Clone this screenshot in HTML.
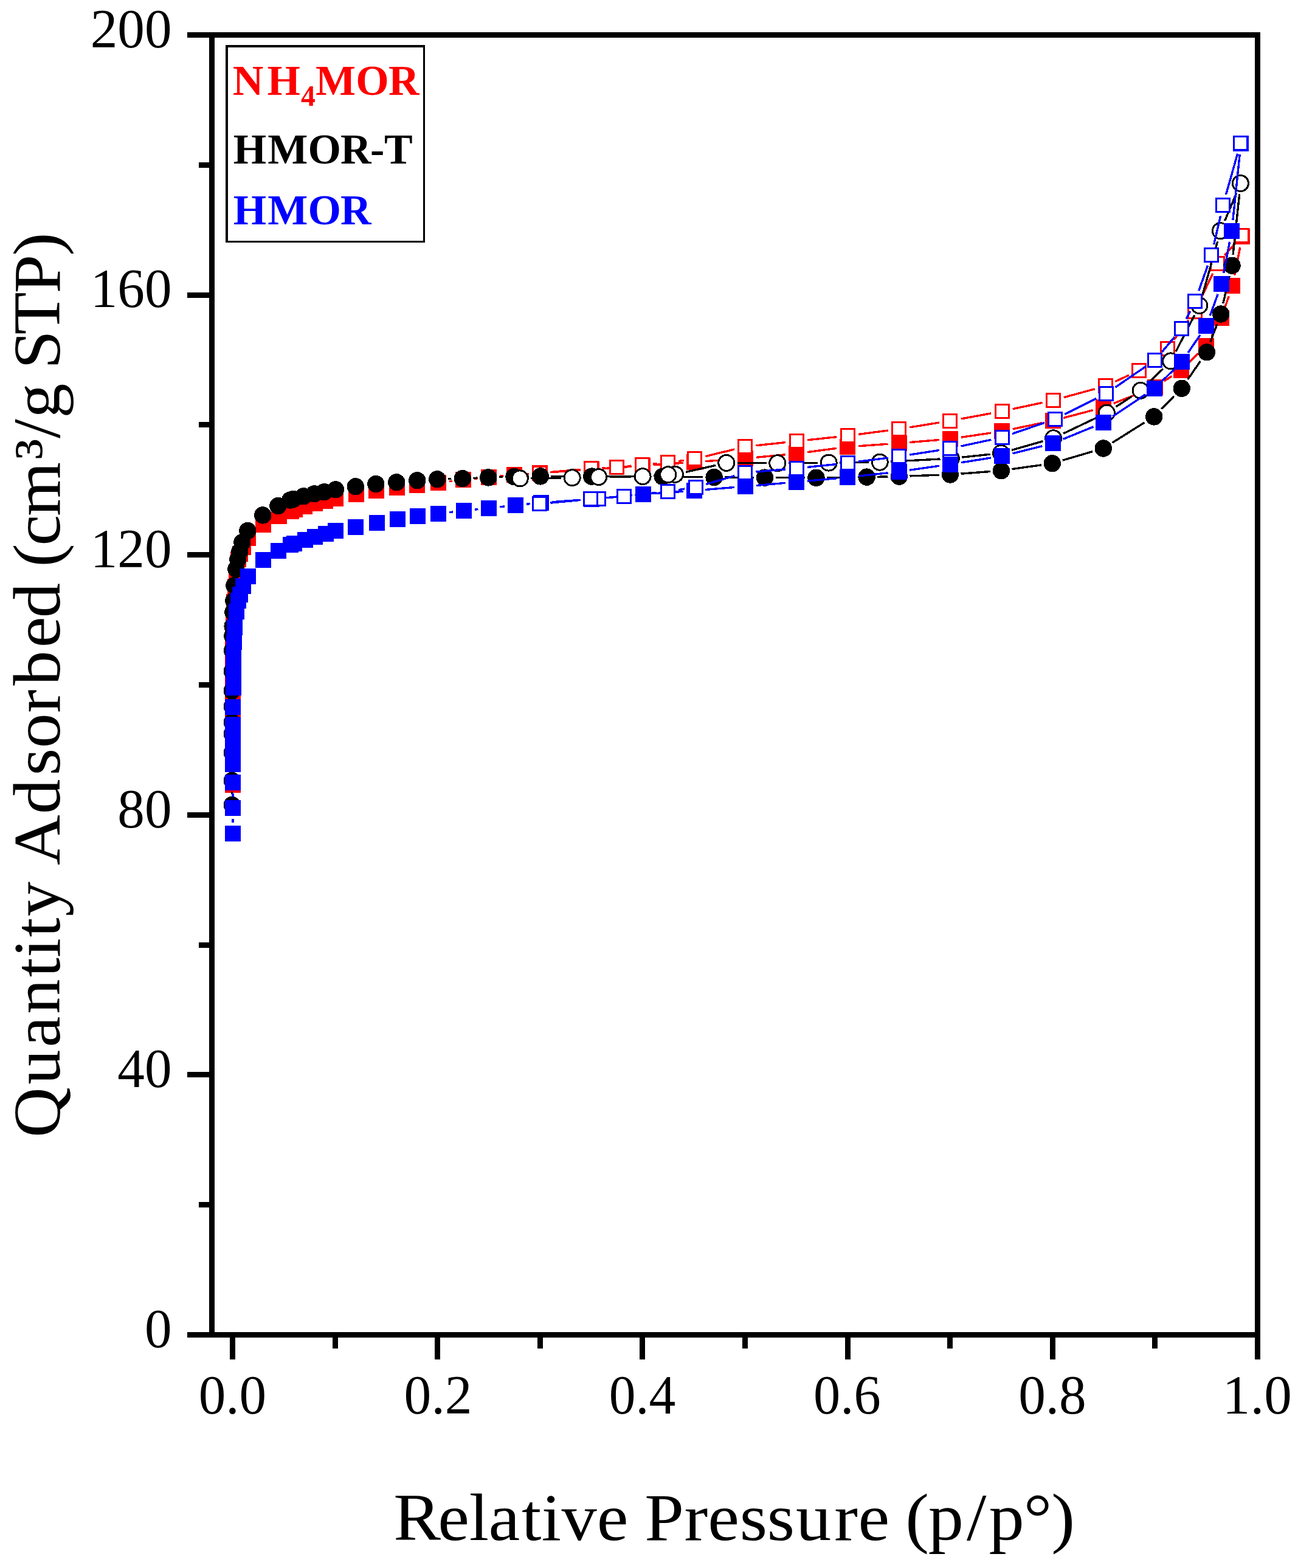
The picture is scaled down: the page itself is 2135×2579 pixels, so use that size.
<!DOCTYPE html>
<html lang="en">
<head>
<meta charset="utf-8">
<title>N2 adsorption-desorption isotherms</title>
<style>
html,body{margin:0;padding:0;background:#fff;}
body{width:2135px;height:2579px;}
svg{display:block;}
text{font-family:"Liberation Serif","DejaVu Serif",serif;fill:#000;}
.tk{font-size:91.5px;}
.ti{font-size:110px;}
.sp{font-size:68px;}
.lg{font-size:70px;font-weight:bold;}
.sb{font-size:47.5px;font-weight:bold;}
.r{fill:#ff0000;}
.b{fill:#0000ff;}
</style>
</head>
<body>
<svg width="2135" height="2579" viewBox="0 0 2135 2579">
<rect x="0" y="0" width="2135" height="2579" fill="#fff"/>
<g shape-rendering="crispEdges">
<path d="M383.0 1273.0L383.0 1268.0M739.4 791.8L744.1 791.2M779.9 787.3L786.1 786.7M821.9 783.2L828.5 782.6M864.4 779.6L870.0 779.2M906.0 776.7L955.0 773.3M991.0 770.7L1039.0 767.3M1075.0 764.7L1124.0 761.3M1160.0 758.7L1208.0 755.3M1243.9 752.3L1292.1 747.7M1327.8 743.7L1376.2 737.3M1412.0 733.7L1460.5 730.3M1496.4 727.5L1545.1 723.5M1580.8 719.3L1630.2 712.0M1665.6 705.7L1714.2 695.6M1749.2 687.4L1797.6 674.6M1831.8 663.4L1883.2 643.3M1915.0 626.8L1927.5 618.5M1955.5 596.2L1971.1 581.3M1992.7 553.1L2000.5 538.4M2014.9 505.6L2021.2 487.3M2030.6 452.7L2039.8 406.6" stroke="#ff0000" stroke-width="3.4" fill="none"/>
<rect x="370" y="1278" width="26" height="26" fill="#ff0000"/><rect x="370" y="1237" width="26" height="26" fill="#ff0000"/><rect x="370" y="1202" width="26" height="26" fill="#ff0000"/><rect x="370" y="1172" width="26" height="26" fill="#ff0000"/><rect x="370" y="1153" width="26" height="26" fill="#ff0000"/><rect x="370" y="1127" width="26" height="26" fill="#ff0000"/><rect x="370" y="1107" width="26" height="26" fill="#ff0000"/><rect x="370" y="1072" width="26" height="26" fill="#ff0000"/><rect x="370" y="1037" width="26" height="26" fill="#ff0000"/><rect x="371" y="1007" width="26" height="26" fill="#ff0000"/><rect x="372" y="977" width="26" height="26" fill="#ff0000"/><rect x="374" y="952" width="26" height="26" fill="#ff0000"/><rect x="376" y="932" width="26" height="26" fill="#ff0000"/><rect x="379" y="907" width="26" height="26" fill="#ff0000"/><rect x="382" y="898" width="26" height="26" fill="#ff0000"/><rect x="387" y="887" width="26" height="26" fill="#ff0000"/><rect x="395" y="872" width="26" height="26" fill="#ff0000"/><rect x="420" y="850" width="26" height="26" fill="#ff0000"/><rect x="446" y="836" width="26" height="26" fill="#ff0000"/><rect x="466" y="828" width="26" height="26" fill="#ff0000"/><rect x="472" y="825" width="26" height="26" fill="#ff0000"/><rect x="488" y="820" width="26" height="26" fill="#ff0000"/><rect x="505" y="815" width="26" height="26" fill="#ff0000"/><rect x="522" y="811" width="26" height="26" fill="#ff0000"/><rect x="539" y="807" width="26" height="26" fill="#ff0000"/><rect x="573" y="800" width="26" height="26" fill="#ff0000"/><rect x="606" y="794" width="26" height="26" fill="#ff0000"/><rect x="640" y="789" width="26" height="26" fill="#ff0000"/><rect x="673" y="785" width="26" height="26" fill="#ff0000"/><rect x="708" y="781" width="26" height="26" fill="#ff0000"/><rect x="749" y="776" width="26" height="26" fill="#ff0000"/><rect x="791" y="772" width="26" height="26" fill="#ff0000"/><rect x="833" y="768" width="26" height="26" fill="#ff0000"/><rect x="875" y="765" width="26" height="26" fill="#ff0000"/><rect x="960" y="759" width="26" height="26" fill="#ff0000"/><rect x="1044" y="753" width="26" height="26" fill="#ff0000"/><rect x="1129" y="747" width="26" height="26" fill="#ff0000"/><rect x="1213" y="741" width="26" height="26" fill="#ff0000"/><rect x="1297" y="733" width="26" height="26" fill="#ff0000"/><rect x="1381" y="722" width="26" height="26" fill="#ff0000"/><rect x="1466" y="716" width="26" height="26" fill="#ff0000"/><rect x="1550" y="709" width="26" height="26" fill="#ff0000"/><rect x="1635" y="696" width="26" height="26" fill="#ff0000"/><rect x="1719" y="679" width="26" height="26" fill="#ff0000"/><rect x="1802" y="657" width="26" height="26" fill="#ff0000"/><rect x="1887" y="624" width="26" height="26" fill="#ff0000"/><rect x="1930" y="596" width="26" height="26" fill="#ff0000"/><rect x="1971" y="556" width="26" height="26" fill="#ff0000"/><rect x="1996" y="510" width="26" height="26" fill="#ff0000"/><rect x="2014" y="457" width="26" height="26" fill="#ff0000"/><rect x="2030" y="376" width="26" height="26" fill="#ff0000"/>
<path d="M2030.8 401.2L2014.4 419.9M1994.9 449.8L1973.1 495.7M1954.8 526.5L1931.1 558.9M1906.2 584.3L1887.7 598.6M1857.0 617.0L1834.4 627.5M1800.6 639.8L1749.6 653.7M1714.6 662.3L1665.6 672.7M1630.3 679.8L1580.7 688.9M1545.2 695.0L1496.3 702.9M1460.7 708.0L1412.2 714.4M1376.5 718.6L1327.9 723.8M1292.1 727.6L1243.5 732.8M1208.1 739.0L1160.5 750.5M1125.2 757.2L1116.3 758.4M1080.6 762.5L1074.2 763.0M1038.4 766.1L1032.3 766.6M996.4 769.2L990.5 769.6M954.6 772.3L905.4 776.5" stroke="#ff0000" stroke-width="3.4" fill="none"/>
<rect x="2031.5" y="376.5" width="22" height="22" fill="#fff" stroke="#ff0000" stroke-width="3"/><rect x="1991.5" y="422.5" width="22" height="22" fill="#fff" stroke="#ff0000" stroke-width="3"/><rect x="1954.5" y="501.5" width="22" height="22" fill="#fff" stroke="#ff0000" stroke-width="3"/><rect x="1909.5" y="562.5" width="22" height="22" fill="#fff" stroke="#ff0000" stroke-width="3"/><rect x="1862.5" y="598.5" width="22" height="22" fill="#fff" stroke="#ff0000" stroke-width="3"/><rect x="1807.5" y="623.5" width="22" height="22" fill="#fff" stroke="#ff0000" stroke-width="3"/><rect x="1721.5" y="647.5" width="22" height="22" fill="#fff" stroke="#ff0000" stroke-width="3"/><rect x="1637.5" y="665.5" width="22" height="22" fill="#fff" stroke="#ff0000" stroke-width="3"/><rect x="1551.5" y="681.5" width="22" height="22" fill="#fff" stroke="#ff0000" stroke-width="3"/><rect x="1467.5" y="694.5" width="22" height="22" fill="#fff" stroke="#ff0000" stroke-width="3"/><rect x="1383.5" y="705.5" width="22" height="22" fill="#fff" stroke="#ff0000" stroke-width="3"/><rect x="1299.5" y="714.5" width="22" height="22" fill="#fff" stroke="#ff0000" stroke-width="3"/><rect x="1214.5" y="723.5" width="22" height="22" fill="#fff" stroke="#ff0000" stroke-width="3"/><rect x="1131.5" y="743.5" width="22" height="22" fill="#fff" stroke="#ff0000" stroke-width="3"/><rect x="1087.5" y="749.5" width="22" height="22" fill="#fff" stroke="#ff0000" stroke-width="3"/><rect x="1045.5" y="753.5" width="22" height="22" fill="#fff" stroke="#ff0000" stroke-width="3"/><rect x="1003.5" y="757.5" width="22" height="22" fill="#fff" stroke="#ff0000" stroke-width="3"/><rect x="961.5" y="759.5" width="22" height="22" fill="#fff" stroke="#ff0000" stroke-width="3"/><rect x="876.5" y="767.5" width="22" height="22" fill="#fff" stroke="#ff0000" stroke-width="3"/>
<path d="M381.5 1306.0L381.5 1302.0M381.5 1266.0L381.5 1256.0M737.0 787.8L742.5 787.6M778.5 786.4L785.0 786.1M821.0 784.8L827.2 784.6M863.2 783.8L870.5 783.6M906.5 783.4L955.0 783.6M991.0 783.6L1071.5 783.9M1107.5 784.1L1156.3 784.8M1192.3 785.1L1239.6 785.5M1275.6 785.6L1324.2 785.8M1360.2 785.5L1407.3 784.9M1443.3 784.3L1460.5 783.9M1496.5 782.9L1544.6 781.2M1580.5 779.2L1628.8 775.5M1664.5 771.6L1712.7 764.8M1747.8 757.1L1797.2 742.6M1829.8 728.0L1882.6 694.9M1910.5 672.5L1930.9 651.7M1953.7 624.0L1974.4 594.1M1990.9 562.4L2001.6 533.4M2011.9 499.0L2022.2 454.2M2028.1 418.8L2038.7 319.4" stroke="#000000" stroke-width="3.4" fill="none"/>
<circle cx="381.8" cy="1324.0" r="14.2" fill="#000000"/><circle cx="381.8" cy="1284.0" r="14.2" fill="#000000"/><circle cx="381.8" cy="1238.0" r="14.2" fill="#000000"/><circle cx="381.8" cy="1207.0" r="14.2" fill="#000000"/><circle cx="381.8" cy="1188.0" r="14.2" fill="#000000"/><circle cx="381.8" cy="1162.0" r="14.2" fill="#000000"/><circle cx="381.8" cy="1136.0" r="14.2" fill="#000000"/><circle cx="381.8" cy="1104.0" r="14.2" fill="#000000"/><circle cx="382.0" cy="1070.0" r="14.2" fill="#000000"/><circle cx="382.3" cy="1046.0" r="14.2" fill="#000000"/><circle cx="382.6" cy="1030.0" r="14.2" fill="#000000"/><circle cx="383.3" cy="1007.0" r="14.2" fill="#000000"/><circle cx="384.3" cy="988.0" r="14.2" fill="#000000"/><circle cx="385.3" cy="963.0" r="14.2" fill="#000000"/><circle cx="388.3" cy="936.0" r="14.2" fill="#000000"/><circle cx="391.3" cy="920.0" r="14.2" fill="#000000"/><circle cx="394.3" cy="907.0" r="14.2" fill="#000000"/><circle cx="398.3" cy="892.0" r="14.2" fill="#000000"/><circle cx="407.3" cy="873.0" r="14.2" fill="#000000"/><circle cx="432.3" cy="847.4" r="14.2" fill="#000000"/><circle cx="457.3" cy="832.0" r="14.2" fill="#000000"/><circle cx="477.3" cy="822.5" r="14.2" fill="#000000"/><circle cx="482.3" cy="821.0" r="14.2" fill="#000000"/><circle cx="499.3" cy="816.3" r="14.2" fill="#000000"/><circle cx="516.8" cy="812.2" r="14.2" fill="#000000"/><circle cx="533.3" cy="809.2" r="14.2" fill="#000000"/><circle cx="552.0" cy="805.3" r="14.2" fill="#000000"/><circle cx="584.8" cy="800.3" r="14.2" fill="#000000"/><circle cx="618.3" cy="796.1" r="14.2" fill="#000000"/><circle cx="652.3" cy="793.3" r="14.2" fill="#000000"/><circle cx="686.3" cy="790.3" r="14.2" fill="#000000"/><circle cx="719.3" cy="788.3" r="14.2" fill="#000000"/><circle cx="760.8" cy="787.1" r="14.2" fill="#000000"/><circle cx="803.3" cy="785.4" r="14.2" fill="#000000"/><circle cx="845.5" cy="784.0" r="14.2" fill="#000000"/><circle cx="888.8" cy="783.4" r="14.2" fill="#000000"/><circle cx="973.3" cy="783.6" r="14.2" fill="#000000"/><circle cx="1089.8" cy="783.9" r="14.2" fill="#000000"/><circle cx="1174.6" cy="785.0" r="14.2" fill="#000000"/><circle cx="1257.9" cy="785.6" r="14.2" fill="#000000"/><circle cx="1342.5" cy="785.8" r="14.2" fill="#000000"/><circle cx="1425.6" cy="784.6" r="14.2" fill="#000000"/><circle cx="1478.8" cy="783.6" r="14.2" fill="#000000"/><circle cx="1562.9" cy="780.5" r="14.2" fill="#000000"/><circle cx="1647.0" cy="774.2" r="14.2" fill="#000000"/><circle cx="1730.8" cy="762.2" r="14.2" fill="#000000"/><circle cx="1814.8" cy="737.5" r="14.2" fill="#000000"/><circle cx="1898.2" cy="685.4" r="14.2" fill="#000000"/><circle cx="1943.8" cy="638.8" r="14.2" fill="#000000"/><circle cx="1984.9" cy="579.3" r="14.2" fill="#000000"/><circle cx="2008.2" cy="516.5" r="14.2" fill="#000000"/><circle cx="2026.5" cy="436.7" r="14.2" fill="#000000"/><circle cx="2040.9" cy="301.5" r="14.2" fill="#000000"/>
<path d="M2033.6 318.1L2014.6 363.1M2002.7 397.0L1977.9 485.3M1964.7 518.6L1934.2 577.9M1913.0 606.5L1889.2 629.7M1861.3 652.2L1835.5 669.1M1804.3 686.7L1749.0 713.1M1715.5 725.7L1664.0 740.4M1628.8 747.2L1582.4 752.1M1546.5 755.0L1465.4 759.2M1429.4 760.4L1381.3 760.9M1345.3 761.2L1297.0 761.6M1261.0 761.6L1213.0 761.5M1177.4 765.3L1128.2 776.4M1081.0 781.9L1075.3 782.4M1039.3 783.8L1002.8 784.4M966.8 785.1L959.4 785.2M923.4 786.0L873.4 786.6" stroke="#000000" stroke-width="3.4" fill="none"/>
<circle cx="2040.4" cy="301.5" r="13" fill="#fff" stroke="#000000" stroke-width="3"/><circle cx="2007.4" cy="379.7" r="13" fill="#fff" stroke="#000000" stroke-width="3"/><circle cx="1972.8" cy="502.6" r="13" fill="#fff" stroke="#000000" stroke-width="3"/><circle cx="1925.7" cy="593.9" r="13" fill="#fff" stroke="#000000" stroke-width="3"/><circle cx="1876.1" cy="642.3" r="13" fill="#fff" stroke="#000000" stroke-width="3"/><circle cx="1820.3" cy="679.0" r="13" fill="#fff" stroke="#000000" stroke-width="3"/><circle cx="1732.6" cy="720.8" r="13" fill="#fff" stroke="#000000" stroke-width="3"/><circle cx="1646.5" cy="745.3" r="13" fill="#fff" stroke="#000000" stroke-width="3"/><circle cx="1564.3" cy="754.0" r="13" fill="#fff" stroke="#000000" stroke-width="3"/><circle cx="1447.2" cy="760.2" r="13" fill="#fff" stroke="#000000" stroke-width="3"/><circle cx="1363.1" cy="761.1" r="13" fill="#fff" stroke="#000000" stroke-width="3"/><circle cx="1278.8" cy="761.7" r="13" fill="#fff" stroke="#000000" stroke-width="3"/><circle cx="1194.8" cy="761.4" r="13" fill="#fff" stroke="#000000" stroke-width="3"/><circle cx="1110.4" cy="780.3" r="13" fill="#fff" stroke="#000000" stroke-width="3"/><circle cx="1098.8" cy="780.7" r="13" fill="#fff" stroke="#000000" stroke-width="3"/><circle cx="1057.1" cy="783.6" r="13" fill="#fff" stroke="#000000" stroke-width="3"/><circle cx="984.6" cy="784.6" r="13" fill="#fff" stroke="#000000" stroke-width="3"/><circle cx="941.2" cy="785.7" r="13" fill="#fff" stroke="#000000" stroke-width="3"/><circle cx="855.2" cy="786.9" r="13" fill="#fff" stroke="#000000" stroke-width="3"/>
<path d="M383.0 1353.0L383.0 1347.0M383.0 1311.0L383.0 1305.0M738.9 842.7L745.1 842.0M780.9 838.1L786.5 837.6M822.3 833.8L830.2 832.9M866.0 829.2L872.1 828.6M908.0 825.7L954.6 822.3M990.5 819.3L1040.1 814.7M1076.0 811.7L1124.0 808.3M1159.9 805.5L1208.1 801.5M1243.9 798.5L1292.1 794.3M1327.9 791.1L1376.5 786.7M1412.3 783.0L1460.6 777.8M1496.3 773.2L1545.2 766.2M1580.8 760.8L1630.2 753.0M1665.5 745.8L1714.5 733.6M1748.6 722.3L1798.4 701.9M1830.0 685.0L1884.1 648.8M1912.0 626.3L1931.2 607.6M1954.2 580.2L1974.0 551.0M1990.3 519.2L2003.1 483.9M2012.7 449.3L2022.6 397.6M2027.9 362.0L2039.2 253.9" stroke="#0000ff" stroke-width="3.4" fill="none"/>
<rect x="370" y="1358" width="26" height="26" fill="#0000ff"/><rect x="370" y="1316" width="26" height="26" fill="#0000ff"/><rect x="370" y="1274" width="26" height="26" fill="#0000ff"/><rect x="370" y="1244" width="26" height="26" fill="#0000ff"/><rect x="370" y="1223" width="26" height="26" fill="#0000ff"/><rect x="370" y="1202" width="26" height="26" fill="#0000ff"/><rect x="370" y="1179" width="26" height="26" fill="#0000ff"/><rect x="370" y="1150" width="26" height="26" fill="#0000ff"/><rect x="371" y="1118" width="26" height="26" fill="#0000ff"/><rect x="371" y="1092" width="26" height="26" fill="#0000ff"/><rect x="371" y="1067" width="26" height="26" fill="#0000ff"/><rect x="372" y="1043" width="26" height="26" fill="#0000ff"/><rect x="373" y="1019" width="26" height="26" fill="#0000ff"/><rect x="376" y="993" width="26" height="26" fill="#0000ff"/><rect x="379" y="975" width="26" height="26" fill="#0000ff"/><rect x="382" y="965" width="26" height="26" fill="#0000ff"/><rect x="387" y="951" width="26" height="26" fill="#0000ff"/><rect x="395" y="935" width="26" height="26" fill="#0000ff"/><rect x="420" y="908" width="26" height="26" fill="#0000ff"/><rect x="445" y="893" width="26" height="26" fill="#0000ff"/><rect x="465" y="883" width="26" height="26" fill="#0000ff"/><rect x="471" y="881" width="26" height="26" fill="#0000ff"/><rect x="489" y="875" width="26" height="26" fill="#0000ff"/><rect x="505" y="870" width="26" height="26" fill="#0000ff"/><rect x="523" y="865" width="26" height="26" fill="#0000ff"/><rect x="539" y="860" width="26" height="26" fill="#0000ff"/><rect x="572" y="854" width="26" height="26" fill="#0000ff"/><rect x="607" y="847" width="26" height="26" fill="#0000ff"/><rect x="641" y="841" width="26" height="26" fill="#0000ff"/><rect x="674" y="836" width="26" height="26" fill="#0000ff"/><rect x="708" y="832" width="26" height="26" fill="#0000ff"/><rect x="750" y="827" width="26" height="26" fill="#0000ff"/><rect x="791" y="823" width="26" height="26" fill="#0000ff"/><rect x="835" y="818" width="26" height="26" fill="#0000ff"/><rect x="877" y="814" width="26" height="26" fill="#0000ff"/><rect x="960" y="808" width="26" height="26" fill="#0000ff"/><rect x="1045" y="800" width="26" height="26" fill="#0000ff"/><rect x="1129" y="794" width="26" height="26" fill="#0000ff"/><rect x="1213" y="787" width="26" height="26" fill="#0000ff"/><rect x="1297" y="780" width="26" height="26" fill="#0000ff"/><rect x="1381" y="772" width="26" height="26" fill="#0000ff"/><rect x="1466" y="763" width="26" height="26" fill="#0000ff"/><rect x="1550" y="751" width="26" height="26" fill="#0000ff"/><rect x="1635" y="737" width="26" height="26" fill="#0000ff"/><rect x="1719" y="716" width="26" height="26" fill="#0000ff"/><rect x="1802" y="682" width="26" height="26" fill="#0000ff"/><rect x="1886" y="626" width="26" height="26" fill="#0000ff"/><rect x="1931" y="582" width="26" height="26" fill="#0000ff"/><rect x="1971" y="523" width="26" height="26" fill="#0000ff"/><rect x="1996" y="454" width="26" height="26" fill="#0000ff"/><rect x="2013" y="367" width="26" height="26" fill="#0000ff"/><rect x="2028" y="223" width="26" height="26" fill="#0000ff"/>
<path d="M2035.6 252.8L2016.5 320.2M2007.6 355.0L1996.7 402.1M1986.6 436.6L1971.7 478.5M1957.7 511.7L1951.4 524.5M1931.9 554.4L1911.3 578.7M1884.8 602.6L1834.4 637.1M1803.4 655.3L1751.2 681.4M1718.1 695.3L1665.0 713.5M1630.4 723.2L1580.6 733.9M1545.2 740.5L1496.3 748.0M1460.6 753.1L1412.3 759.2M1376.5 763.4L1327.9 768.4M1292.1 771.8L1243.5 776.0M1208.3 782.6L1161.3 796.4M1126.2 804.1L1115.8 805.7M1080.1 810.3L1044.5 814.4M1008.7 818.2L1002.5 818.8M953.6 822.6L905.4 827.1" stroke="#0000ff" stroke-width="3.4" fill="none"/>
<rect x="2029.5" y="224.5" width="22" height="22" fill="#fff" stroke="#0000ff" stroke-width="3"/><rect x="2000.5" y="326.5" width="22" height="22" fill="#fff" stroke="#0000ff" stroke-width="3"/><rect x="1981.5" y="408.5" width="22" height="22" fill="#fff" stroke="#0000ff" stroke-width="3"/><rect x="1954.5" y="484.5" width="22" height="22" fill="#fff" stroke="#0000ff" stroke-width="3"/><rect x="1932.5" y="529.5" width="22" height="22" fill="#fff" stroke="#0000ff" stroke-width="3"/><rect x="1888.5" y="581.5" width="22" height="22" fill="#fff" stroke="#0000ff" stroke-width="3"/><rect x="1808.5" y="636.5" width="22" height="22" fill="#fff" stroke="#0000ff" stroke-width="3"/><rect x="1724.5" y="678.5" width="22" height="22" fill="#fff" stroke="#0000ff" stroke-width="3"/><rect x="1637.5" y="708.5" width="22" height="22" fill="#fff" stroke="#0000ff" stroke-width="3"/><rect x="1551.5" y="726.5" width="22" height="22" fill="#fff" stroke="#0000ff" stroke-width="3"/><rect x="1467.5" y="739.5" width="22" height="22" fill="#fff" stroke="#0000ff" stroke-width="3"/><rect x="1383.5" y="750.5" width="22" height="22" fill="#fff" stroke="#0000ff" stroke-width="3"/><rect x="1299.5" y="759.5" width="22" height="22" fill="#fff" stroke="#0000ff" stroke-width="3"/><rect x="1214.5" y="766.5" width="22" height="22" fill="#fff" stroke="#0000ff" stroke-width="3"/><rect x="1133.5" y="790.5" width="22" height="22" fill="#fff" stroke="#0000ff" stroke-width="3"/><rect x="1087.5" y="797.5" width="22" height="22" fill="#fff" stroke="#0000ff" stroke-width="3"/><rect x="1015.5" y="805.5" width="22" height="22" fill="#fff" stroke="#0000ff" stroke-width="3"/><rect x="973.5" y="809.5" width="22" height="22" fill="#fff" stroke="#0000ff" stroke-width="3"/><rect x="960.5" y="809.5" width="22" height="22" fill="#fff" stroke="#0000ff" stroke-width="3"/><rect x="876.5" y="817.5" width="22" height="22" fill="#fff" stroke="#0000ff" stroke-width="3"/>
</g>
<g shape-rendering="crispEdges" fill="#000">
<rect x="344" y="53" width="1729" height="9"/><rect x="344" y="2191" width="1729" height="9"/><rect x="344" y="53" width="9" height="2147"/><rect x="2064" y="53" width="9" height="2147"/>
<rect x="308" y="2191" width="37" height="9"/><rect x="327" y="1977" width="18" height="9"/><rect x="308" y="1763" width="37" height="9"/><rect x="327" y="1550" width="18" height="9"/><rect x="308" y="1336" width="37" height="9"/><rect x="327" y="1122" width="18" height="9"/><rect x="308" y="908" width="37" height="9"/><rect x="327" y="694" width="18" height="9"/><rect x="308" y="481" width="37" height="9"/><rect x="327" y="267" width="18" height="9"/><rect x="308" y="53" width="37" height="9"/>
<rect x="378" y="2199" width="9" height="37"/><rect x="547" y="2199" width="9" height="19"/><rect x="715" y="2199" width="9" height="37"/><rect x="884" y="2199" width="9" height="19"/><rect x="1052" y="2199" width="9" height="37"/><rect x="1221" y="2199" width="9" height="19"/><rect x="1390" y="2199" width="9" height="37"/><rect x="1558" y="2199" width="9" height="19"/><rect x="1727" y="2199" width="9" height="37"/><rect x="1895" y="2199" width="9" height="19"/><rect x="2064" y="2199" width="9" height="37"/>
</g>
<g>
<text class="tk" transform="translate(237.96 2215.80) scale(0.9750 1)">0</text><text class="tk" transform="translate(193.36 1788.20) scale(0.9750 1)">40</text><text class="tk" transform="translate(193.36 1360.60) scale(0.9750 1)">80</text><text class="tk" transform="translate(148.75 933.00) scale(0.9750 1)">120</text><text class="tk" transform="translate(148.75 505.40) scale(0.9750 1)">160</text><text class="tk" transform="translate(148.75 77.80) scale(0.9750 1)">200</text>
<text class="tk" transform="translate(326.63 2325.00) scale(0.9752 1)">0.0</text><text class="tk" transform="translate(664.62 2325.00) scale(0.9789 1)">0.2</text><text class="tk" transform="translate(1001.80 2325.00) scale(0.9570 1)">0.4</text><text class="tk" transform="translate(1338.06 2325.00) scale(0.9669 1)">0.6</text><text class="tk" transform="translate(1675.13 2325.00) scale(0.9761 1)">0.8</text><text class="tk" transform="translate(2010.79 2325.00) scale(0.9973 1)">1.0</text>
</g>
<g>
<rect x="372.75" y="75.75" width="324.5" height="321.5" fill="#fff" stroke="#000" stroke-width="3.5" shape-rendering="crispEdges"/>
<text class="lg r" y="155.7"><tspan x="382.8 439.4">NH</tspan><tspan class="sb" x="494.9" dy="18.2">4</tspan><tspan x="519.1 585.2 639.0" dy="-18.2">MOR</tspan></text>
<text class="lg" y="268.8" x="383.7 440.3 506.4 560.0 609.1 631.9">HMOR-T</text>
<text class="lg b" y="369" x="383.7 440.3 506.4 560.0">HMOR</text>
</g>
<text class="ti" transform="translate(98 1868.0) rotate(-90) scale(1.0415 1)" x="-2.9 80.9 139.6 192.3 250.6 281.3 313.7 346.4 401.4 427.2 507.9 568.9 612.1 667.8 710.9 770.8 817.9 872.9 898.3 931.8 978.3 1067.6 1101.3 1133.2 1188.2 1210.7 1265.3 1330.3 1389.6" y="0">Quantity Adsorbed (cm³/g STP)</text>
<text class="ti" transform="translate(0 2532.6) scale(1.0585 1)" x="611.5 680.4 729.1 759.2 810.7 841.5 872.5 927.5 976.3 1001.6 1063.2 1099.9 1149.5 1192.0 1236.7 1296.3 1333.5 1382.4 1406.9 1442.4 1502.1 1536.6 1590.8 1633.6" y="0">Relative Pressure (p/p°)</text>
</svg>
</body>
</html>
